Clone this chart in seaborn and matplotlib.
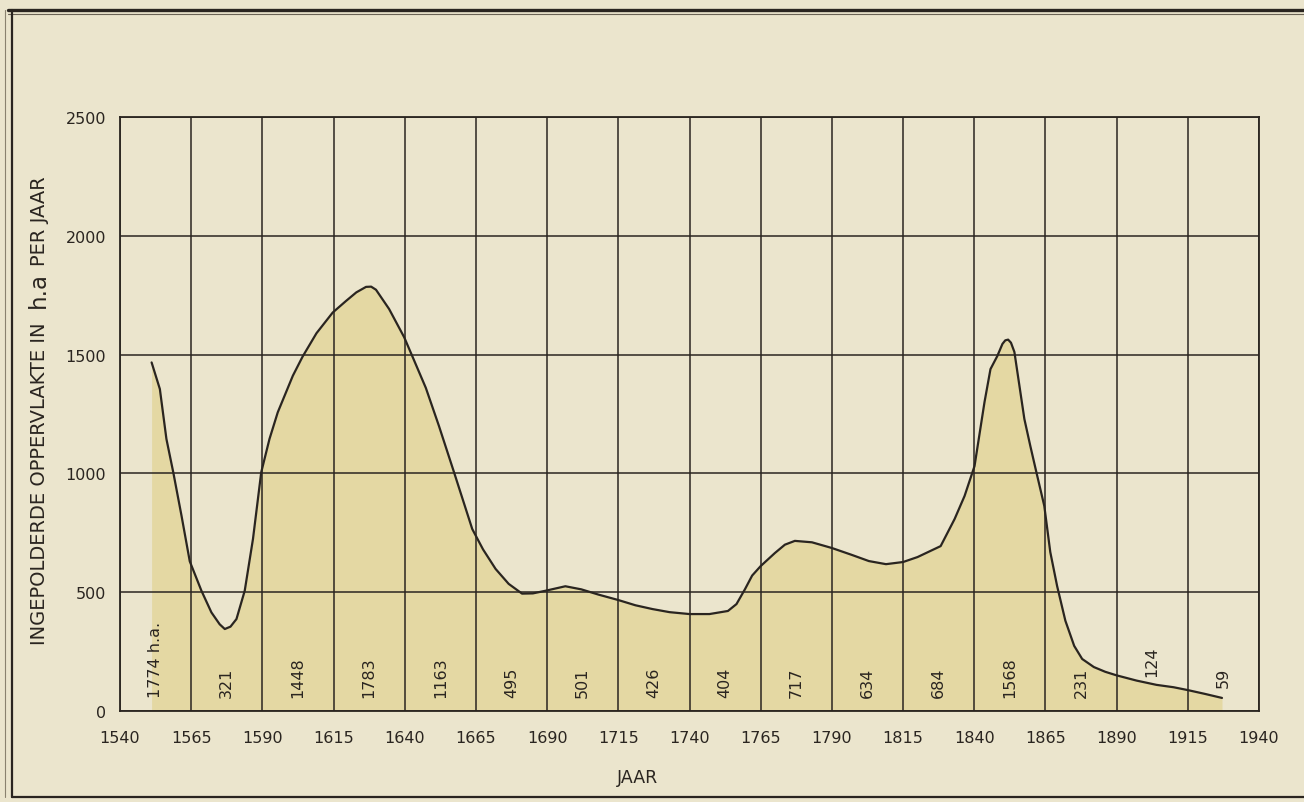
import matplotlib
matplotlib.use("Agg")
import matplotlib.pyplot as plt
import seaborn as sns
import pandas as pd
from matplotlib.lines import Line2D

# ============================================================
# DATA (curve) and its column labels
# ============================================================

YEARS = [1551.1, 1554.0, 1556.3, 1558.7, 1561.6, 1564.5, 1568.6, 1572.1,
         1575.0, 1576.8, 1578.8, 1580.9, 1583.8, 1586.7, 1589.6, 1592.5,
         1595.4, 1600.7, 1604.1, 1609.0, 1614.7, 1619.4, 1623.0, 1626.4,
         1628.2, 1629.9, 1634.5, 1639.8, 1642.7, 1647.4, 1652.0, 1657.3,
         1663.7, 1667.5, 1671.9, 1676.5, 1681.2, 1685.0, 1689.4, 1696.4,
         1702.0, 1708.0, 1715.0, 1721.0, 1727.0, 1733.0, 1740.0, 1747.0,
         1753.5, 1756.5, 1759.5, 1762.0, 1765.0, 1770.0, 1773.5, 1777.0,
         1783.0, 1790.0, 1797.0, 1803.0, 1809.0, 1815.0, 1820.1, 1828.2,
         1833.1, 1836.6, 1840.1, 1843.6, 1845.7, 1848.1, 1849.9, 1850.9,
         1851.9, 1852.9, 1854.1, 1857.6, 1859.7, 1861.8, 1864.6, 1866.7,
         1869.1, 1872.0, 1875.1, 1877.9, 1882.0, 1886.0, 1890.0, 1897.0,
         1904.0, 1910.0, 1915.0, 1921.0, 1927.0]

AREA = [1467, 1355, 1145, 1005, 822, 630, 506, 415,
        365, 345, 355, 387, 506, 724, 1005, 1145,
        1257, 1411, 1491, 1590, 1677, 1726, 1762, 1785,
        1786, 1773, 1692, 1573, 1492, 1360, 1200, 1005,
        766, 680, 598, 535, 494, 495, 506, 525,
        512, 490, 467, 445, 429, 416, 408, 408,
        421, 450, 513, 570, 610, 665, 700, 716,
        710, 686, 657, 631, 618, 627, 648, 694,
        808, 905, 1031, 1300, 1439, 1494, 1545, 1560,
        1563, 1550, 1511, 1229, 1115, 1006, 863, 669,
        526, 380, 274, 219, 185, 165, 150, 128,
        110, 100, 88, 72, 55]

PERIOD_START = [1540, 1565, 1590, 1615, 1640, 1665, 1690, 1715,
                1740, 1765, 1790, 1815, 1840, 1865, 1890, 1915]
PERIOD_VALUE = [1774, 321, 1448, 1783, 1163, 495, 501, 426,
                404, 717, 634, 684, 1568, 231, 124, 59]

X_TICKS = list(range(1540, 1941, 25))
Y_TICKS = [0, 500, 1000, 1500, 2000, 2500]

# ============================================================
# STYLE
# ============================================================

PAPER = "#ebe5cd"
FILL = "#e4d8a3"
INK = "#2a2520"

W, H = 1304, 803

sns.set_theme(style="white")
plt.rcParams["font.family"] = ["DejaVu Sans"]
plt.rcParams["text.color"] = INK
plt.rcParams["axes.labelcolor"] = INK
plt.rcParams["xtick.color"] = INK
plt.rcParams["ytick.color"] = INK

df = pd.DataFrame({"jaar": YEARS, "ha": AREA})

fig = plt.figure(figsize=(W / 100, H / 100), dpi=100, facecolor=PAPER)
ax = fig.add_axes([120 / W, 1 - 712 / H, (1259 - 120) / W, (712 - 118) / H])
ax.set_facecolor(PAPER)

# shaded area under the curve
ax.fill_between(df["jaar"], 0, df["ha"], color=FILL, linewidth=0, zorder=1)

# grid drawn like the hand-ruled lines
for x in X_TICKS:
    ax.axvline(x, color=INK, linewidth=1.1, zorder=2)
for y in Y_TICKS:
    ax.axhline(y, color=INK, linewidth=1.1, zorder=2)

sns.lineplot(data=df, x="jaar", y="ha", ax=ax, color=INK, linewidth=1.6,
             sort=False, zorder=3, solid_joinstyle="round")

ax.set_xlim(1540, 1940)
ax.set_ylim(0, 2500)
ax.set_xticks(X_TICKS)
ax.set_yticks(Y_TICKS)
ax.tick_params(axis="x", length=0, pad=14, labelsize=11.5)
ax.tick_params(axis="y", length=0, pad=10, labelsize=11.5)
ax.set_xlabel("")
ax.set_ylabel("")
for side in ax.spines.values():
    side.set_color(INK)
    side.set_linewidth(1.3)

# period totals, written upright in each column
label_base = [58] * 14 + [147, 101]
for i, (start, val) in enumerate(zip(PERIOD_START, PERIOD_VALUE)):
    txt = f"{val} h.a." if i == 0 else str(val)
    ax.text(start + 12.5, label_base[i], txt, rotation=90, ha="center",
            va="bottom", fontsize=11.5, color=INK, zorder=4)

# axis titles
fig.text(637 / W, 1 - 778 / H, "JAAR", ha="center", va="center",
         fontsize=12.5, color=INK)
ylab = dict(rotation=90, rotation_mode="anchor", ha="left", va="baseline",
            color=INK)
fig.text(45 / W, 1 - 645 / H, "INGEPOLDERDE OPPERVLAKTE IN",
         fontsize=14, **ylab)
fig.text(45 / W, 1 - 308 / H, "h.a", fontsize=16.5, **ylab)
fig.text(45 / W, 1 - 266 / H, "PER JAAR", fontsize=14, **ylab)

# old sheet border
def px_line(x0, y0, x1, y1, lw, color=INK):
    fig.add_artist(Line2D([x0 / W, x1 / W], [1 - y0 / H, 1 - y1 / H],
                          color=color, linewidth=lw))

px_line(8, 11, W, 11, 2.4)
px_line(8, 15, W, 15, 0.8, "#6b6355")
px_line(12, 11, 12, 798, 1.6)
px_line(5, 11, 5, 798, 0.8, "#8a826f")
px_line(12, 798, W, 798, 1.6)

fig.savefig("out.png", dpi=100, facecolor=PAPER)
